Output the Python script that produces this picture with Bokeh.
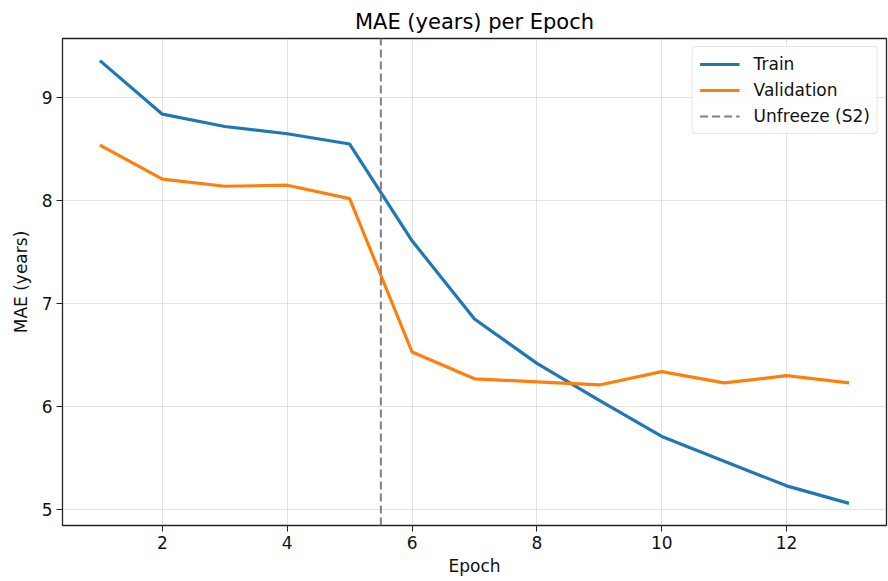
from bokeh.plotting import figure
from bokeh.models import Range1d, SingleIntervalTicker, Legend, LegendItem
from bokeh.embed import file_html
from bokeh.resources import INLINE

epochs = [1, 2, 3, 4, 5, 6, 7, 8, 9, 10, 11, 12, 13]
train_mae = [9.36, 8.84, 8.72, 8.65, 8.55, 7.61, 6.85, 6.42, 6.06, 5.71, 5.47, 5.23, 5.06]
val_mae = [8.54, 8.21, 8.14, 8.15, 8.02, 6.53, 6.27, 6.24, 6.21, 6.34, 6.23, 6.30, 6.23]
unfreeze_epoch = 5.5
y_lo, y_hi = 4.845, 9.575

FONT = "DejaVu Sans"

p = figure(width=888, height=581, output_backend="svg", toolbar_location=None,
           x_range=Range1d(0.4, 13.6), y_range=Range1d(y_lo, y_hi),
           min_border_left=62, min_border_right=2, min_border_top=38, min_border_bottom=56)

p.title.text = "MAE (years) per Epoch"
p.title.align = "center"
p.title.text_font = FONT
p.title.text_font_size = "21px"
p.title.text_font_style = "normal"
p.title.text_color = "#000000"
p.title.offset = 0

p.outline_line_color = "#222222"
p.outline_line_width = 1.3

for ax in (p.xaxis, p.yaxis):
    ax.axis_line_color = None
    ax.major_tick_line_color = "#222222"
    ax.major_tick_in = 0
    ax.major_tick_out = 6
    ax.major_label_standoff = 4
    ax.minor_tick_line_color = None
    ax.major_label_text_font = FONT
    ax.major_label_text_font_size = "17px"
    ax.major_label_text_color = "#111111"
    ax.axis_label_text_font = FONT
    ax.axis_label_text_font_size = "17px"
    ax.axis_label_text_font_style = "normal"
    ax.axis_label_text_color = "#111111"

p.xaxis.ticker = SingleIntervalTicker(interval=2)
p.yaxis.ticker = SingleIntervalTicker(interval=1)
p.xaxis.axis_label = "Epoch"
p.yaxis.axis_label = "MAE (years)"
p.xaxis.axis_label_standoff = 4
p.yaxis.axis_label_standoff = 8

p.xgrid.grid_line_color = "#b0b0b0"
p.ygrid.grid_line_color = "#b0b0b0"
p.xgrid.grid_line_alpha = 0.35
p.ygrid.grid_line_alpha = 0.35
p.xgrid.ticker = p.xaxis.ticker
p.ygrid.ticker = p.yaxis.ticker

r_train = p.line(epochs, train_mae, line_color="#1f77b4", line_width=3.2)
r_val = p.line(epochs, val_mae, line_color="#ff7f0e", line_width=3.2)
r_unf = p.line([unfreeze_epoch, unfreeze_epoch], [y_lo, y_hi], line_color="#808080",
               line_dash="8 4", line_width=2)

legend = Legend(items=[LegendItem(label="Train", renderers=[r_train]),
                       LegendItem(label="Validation", renderers=[r_val]),
                       LegendItem(label="Unfreeze (S2)", renderers=[r_unf])],
                location="top_right")
legend.label_text_font = FONT
legend.label_text_font_size = "17px"
legend.label_text_color = "#111111"
legend.border_line_color = "#cccccc"
legend.border_line_width = 1
legend.background_fill_alpha = 0.85
legend.margin = 8
legend.padding = 7
legend.spacing = 6
legend.glyph_width = 40
legend.glyph_height = 20
legend.label_standoff = 14
legend.label_height = 20
legend.border_radius = 4
p.add_layout(legend)

open("out.html", "w").write(file_html(p, INLINE))
